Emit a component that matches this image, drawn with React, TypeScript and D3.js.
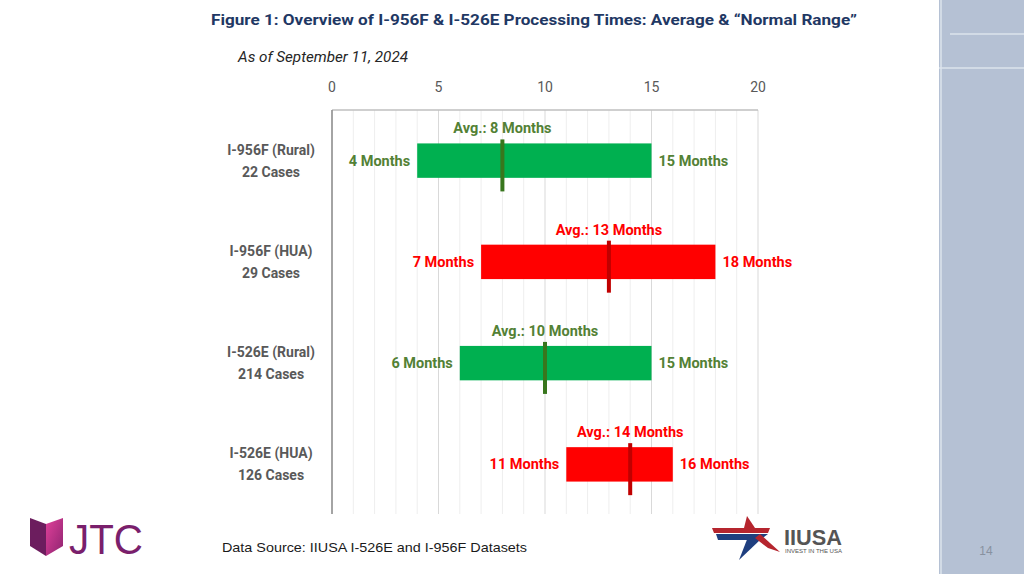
import * as d3 from 'd3';

const categories = ['I-956F (Rural)', 'I-956F (HUA)', 'I-526E (Rural)', 'I-526E (HUA)'];
const caseCounts = ['22 Cases', '29 Cases', '214 Cases', '126 Cases'];
const lowMonths = [4, 7, 6, 11];
const highMonths = [15, 18, 15, 16];
const avgMonths = [8, 13, 10, 14];
const areaType = ['Rural', 'HUA', 'Rural', 'HUA'];
const xTicks = [0, 5, 10, 15, 20];

const W = 1024;
const H = 574;
const FONT = "'Roboto', sans-serif";

const palette: Record<string, { bar: string; text: string; mark: string }> = {
  Rural: { bar: '#00B050', text: '#538135', mark: '#38761D' },
  HUA: { bar: '#FF0000', text: '#FF0000', mark: '#C00000' },
};

export default function App() {
  const plot = { left: 332, right: 758, top: 110, bottom: 514 };

  const x = d3.scaleLinear().domain([0, 20]).range([plot.left, plot.right]);
  const y = d3
    .scaleBand()
    .domain(categories)
    .range([plot.top, plot.top + 405])
    .paddingInner(0.66)
    .paddingOuter(0.33);

  const minorTicks = d3.range(0, 21, 1);
  const barH = y.bandwidth();

  return (
    <svg width={W} height={H} style={{ position: 'absolute', left: 0, top: 0 }} fontFamily={FONT}>
      <rect width={W} height={H} fill="#fff" />

      {/* right side panel */}
      <rect x={939} y={0} width={85} height={H} fill="#B5C1D4" />
      <line x1={941} x2={941} y1={0} y2={H} stroke="#DDE3EC" strokeWidth={1.5} />
      <line x1={950} x2={W} y1={34} y2={34} stroke="#DDE3EC" strokeWidth={1.5} />
      <line x1={939} x2={W} y1={68} y2={68} stroke="#DDE3EC" strokeWidth={1.5} />
      <text x={986} y={555} fill="#8891A0" fontSize={12} fontFamily="'Liberation Sans', sans-serif" textAnchor="middle">
        14
      </text>

      {/* title */}
      <text x={534} y={25} textAnchor="middle" fill="#1F3864" fontWeight="bold" fontSize={15.5} textLength={646} lengthAdjust="spacingAndGlyphs">
        Figure 1: Overview of I-956F &amp; I-526E Processing Times: Average &amp; “Normal Range”
      </text>
      <text x={238} y={62} fill="#262626" fontStyle="italic" fontSize={14.5} textLength={170} lengthAdjust="spacingAndGlyphs">
        As of September 11, 2024
      </text>

      {/* grid */}
      {minorTicks.map((t) => (
        <line
          key={t}
          x1={x(t)}
          x2={x(t)}
          y1={plot.top}
          y2={plot.bottom}
          stroke={t % 5 === 0 ? '#D9D9D9' : '#EEEEEE'}
          strokeWidth={1}
        />
      ))}
      <line x1={plot.left} x2={plot.right} y1={plot.top} y2={plot.top} stroke="#BFBFBF" strokeWidth={1.5} />
      <line x1={plot.left} x2={plot.left} y1={plot.top} y2={plot.bottom} stroke="#8C8C8C" strokeWidth={1.5} />

      {/* top axis labels */}
      {xTicks.map((t) => (
        <text key={t} x={x(t)} y={92} textAnchor="middle" fill="#595959" fontSize={14}>
          {t}
        </text>
      ))}

      {/* rows */}
      {categories.map((c, i) => {
        const y0 = y(c) as number;
        const cy = y0 + barH / 2;
        const col = palette[areaType[i]];
        return (
          <g key={c}>
            <text x={271} y={cy - 6} textAnchor="middle" fill="#595959" fontWeight="bold" fontSize={14}>
              {c}
            </text>
            <text x={271} y={cy + 16} textAnchor="middle" fill="#595959" fontWeight="bold" fontSize={14}>
              {caseCounts[i]}
            </text>
            <rect x={x(lowMonths[i])} y={y0} width={x(highMonths[i]) - x(lowMonths[i])} height={barH} fill={col.bar} />
            <rect x={x(avgMonths[i]) - 2} y={y0 - 4} width={4} height={52} fill={col.mark} />
            <text x={x(avgMonths[i])} y={y0 - 10} textAnchor="middle" fill={col.text} fontWeight="bold" fontSize={14.5}>
              {`Avg.: ${avgMonths[i]} Months`}
            </text>
            <text x={x(lowMonths[i]) - 7} y={cy + 5} textAnchor="end" fill={col.text} fontWeight="bold" fontSize={14.5}>
              {`${lowMonths[i]} Months`}
            </text>
            <text x={x(highMonths[i]) + 7} y={cy + 5} textAnchor="start" fill={col.text} fontWeight="bold" fontSize={14.5}>
              {`${highMonths[i]} Months`}
            </text>
          </g>
        );
      })}

      {/* footer */}
      <text x={222} y={552} fill="#1a1a1a" fontSize={13.5} fontFamily="'Liberation Sans', sans-serif" textLength={305} lengthAdjust="spacingAndGlyphs">
        Data Source: IIUSA I-526E and I-956F Datasets
      </text>

      {/* JTC logo */}
      <defs>
        <linearGradient id="jtcR" x1="0" y1="0" x2="1" y2="1">
          <stop offset="0" stopColor="#E0409A" />
          <stop offset="1" stopColor="#8E2470" />
        </linearGradient>
      </defs>
      <polygon points="30,518 46,524 46,556 30,546" fill="#6C1D5E" />
      <polygon points="46,524 63,518 63,546 46,556" fill="url(#jtcR)" />
      <text x={69} y={554} fill="#7A1F6C" fontSize={42} fontFamily="'Liberation Sans', sans-serif" textLength={74} lengthAdjust="spacingAndGlyphs">
        JTC
      </text>

      {/* IIUSA logo */}
      <polygon points="712,528 770,528 768,533 714,533" fill="#B5252E" />
      <polygon points="716,534 768,534 760,540 718,540" fill="#1F3F7F" />
      <polygon points="747,516 755,528 744,528" fill="#B5252E" />
      <polygon points="760,540 739,560 748,537" fill="#1F3F7F" />
      <polygon points="760,534 780,552 768,548 755,538" fill="#B5252E" />
      <text x={784} y={545} fill="#555" fontWeight="bold" fontSize={22} fontFamily="'Liberation Sans', sans-serif" textLength={58} lengthAdjust="spacingAndGlyphs">
        IIUSA
      </text>
      <text x={785} y={553} fill="#555" fontSize={5} fontFamily="'Liberation Sans', sans-serif" textLength={57} lengthAdjust="spacingAndGlyphs">
        INVEST IN THE USA
      </text>
    </svg>
  );
}
